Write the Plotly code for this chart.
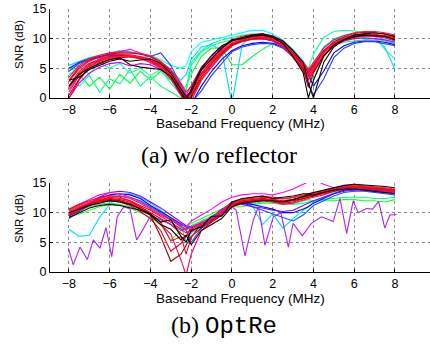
import plotly.graph_objects as go

# ---------------- data ----------------
FREQ = [-8.0, -7.5, -7.0, -6.5, -6.0, -5.5, -5.0, -4.5, -4.0, -3.5, -3.0, -2.5,
        -2.25,
        -2.0, -1.5, -1.0, -0.5, 0.0, 0.5, 1.0, 1.5, 2.0, 2.5, 3.0, 3.5,
        3.75,
        4.0, 4.5, 5.0, 5.5, 6.0, 6.5, 7.0, 7.5, 8.0]
X_TICKS = [-8, -6, -4, -2, 0, 2, 4, 6, 8]
Y_TICKS = [0, 5, 10, 15]

# (a) w/o reflector
TOP_GREEN_1 = [5.2, 4.0, 2.0, 3.5, 1.5, 4.0, 2.5, 4.5, 3.0, 4.5, 3.0, 1.5,
               2.0,
               4.0, 7.0, 8.4, 8.4, 5.6, 5.6, 7.0, 8.2, 9.2, 9.2, 8.0, 6.0,
               4.2,
               5.8, 8.0, 9.0, 9.4, 9.6, 9.8, 10.0, 9.6, 9.2]
TOP_GREEN_2 = [5.0, 5.4, 4.0, 6.0, 5.0, 5.8, 4.2, 5.0, 3.8, 4.8, 2.5, 0.5,
               1.5,
               6.0, 8.0, 9.2, 9.8, 10.2, 10.6, 10.8, 10.6, 10.0, 9.0, 7.6, 6.2,
               5.0,
               7.4, 10.2, 11.2, 11.4, 11.3, 11.0, 10.6, 8.2, 6.6]
TOP_GREEN_3 = [3.0, 2.0, 3.8, 1.0, 3.2, 2.4, 4.8, 2.0, 3.6, 2.0, 1.0, 0.0,
               1.0,
               5.5, 7.8, 8.8, 9.4, 9.8, 10.0, 10.2, 10.0, 9.6, 8.8, 7.8, 6.0,
               4.8,
               3.0, 7.5, 9.4, 10.2, 10.6, 10.6, 10.4, 10.2, 9.6]
TOP_CYAN_1 = [4.0, 5.0, 5.8, 6.5, 7.0, 7.4, 7.5, 7.5, 7.2, 6.5, 5.5, 5.0,
              5.5,
              7.8, 9.4, 9.8, 10.2, 10.6, 11.0, 11.4, 11.4, 10.8, 9.8, 8.2, 6.2,
              4.5,
              5.6, 8.4, 10.0, 10.6, 10.8, 10.6, 10.4, 10.0, 9.4]
TOP_CYAN_2 = [5.5, 6.2, 6.8, 7.2, 7.6, 8.0, 7.8, 7.4, 7.0, 6.0, 4.5, 3.0,
              4.0,
              6.5, 8.6, 9.0, 8.0, -1.0, 9.0, 10.6, 10.8, 10.4, 9.4, 7.6, 5.6,
              4.2,
              5.4, 8.6, 9.8, 10.2, 10.4, 10.2, 10.0, 8.6, 4.8]
TOP_BLUE_1 = [5.0, 6.0, 6.6, 7.0, 7.2, 7.2, 7.0, 6.8, 6.4, 5.4, 3.8, 1.0,
              -1.0,
              -1.0, 2.0, 4.5, 6.5, 8.0, 8.8, 9.2, 9.4, 9.2, 8.6, 7.4, 5.6,
              4.0,
              2.0, 4.5, 7.6, 8.8, 9.4, 9.6, 9.6, 9.4, 9.0]
TOP_BLUE_2 = [4.5, 5.8, 6.4, 6.8, 7.0, 7.3, 7.1, 6.8, 7.0, 7.6, 5.5, 2.0,
              0.5,
              -0.8, 1.2, 3.8, 5.8, 7.8, 8.6, 9.0, 9.2, 9.1, 8.4, 7.0, 5.0,
              2.4,
              0.5, 3.2, 6.8, 8.4, 9.2, 9.5, 9.5, 9.2, 8.8]
TOP_PURPLE = [0.0, 2.5, 4.2, 5.2, 5.8, 6.0, 5.4, 5.8, 5.6, 4.8, 3.8, 1.2,
              -0.5,
              0.5, 4.0, 6.2, 7.8, 9.0, 9.6, 9.9, 10.0, 9.6, 8.6, 7.2, 5.4,
              3.6,
              4.8, 7.2, 8.8, 9.6, 10.0, 10.1, 10.0, 9.8, 9.4]
TOP_MAGENTA = [1.5, 4.0, 5.6, 6.6, 7.4, 7.8, 8.2, 7.6, 7.0, 5.8, 4.6, 2.0,
               0.5,
               2.0, 5.0, 7.0, 8.5, 9.6, 10.0, 10.2, 10.2, 9.8, 9.0, 7.6, 5.8,
               4.6,
               5.6, 7.8, 9.2, 10.0, 10.4, 10.5, 10.4, 10.2, 9.6]
TOP_RED_1 = [2.0, 4.5, 5.8, 6.5, 7.0, 7.2, 7.3, 7.0, 6.5, 5.6, 4.0, 1.0,
             -0.5,
             0.5, 4.0, 6.0, 7.8, 9.2, 9.8, 10.2, 10.3, 10.0, 9.0, 7.2, 5.2,
             3.8,
             5.0, 7.6, 9.2, 10.0, 10.6, 10.8, 10.7, 10.5, 10.0]
TOP_RED_2 = [1.0, 3.8, 5.4, 6.2, 6.7, 6.9, 6.9, 6.7, 6.2, 5.2, 3.5, 0.5,
             -1.0,
             0.0, 3.2, 5.5, 7.4, 8.9, 9.6, 10.0, 10.0, 9.7, 8.7, 6.8, 4.7,
             3.2,
             4.4, 7.1, 8.8, 9.7, 10.2, 10.4, 10.4, 10.2, 9.8]
TOP_RED_3 = [3.0, 5.2, 6.4, 7.0, 7.4, 7.6, 7.6, 7.4, 7.0, 6.0, 4.6, 1.8,
             0.3,
             1.2, 4.6, 6.6, 8.3, 9.6, 10.2, 10.5, 10.6, 10.3, 9.4, 7.6, 5.6,
             4.3,
             5.4, 8.0, 9.5, 10.3, 10.9, 11.1, 11.0, 10.8, 10.3]
TOP_RED_4 = [0.5, 3.2, 5.0, 6.0, 6.5, 6.8, 7.0, 6.9, 6.4, 5.4, 3.8, 0.8,
             -0.8,
             0.2, 3.6, 5.8, 7.6, 9.0, 9.7, 10.0, 10.1, 9.9, 9.0, 7.4, 4.9,
             1.8,
             4.2, 7.2, 9.0, 9.9, 10.4, 10.6, 10.6, 10.5, 10.2]
TOP_RED_5 = [2.8, 4.9, 6.2, 6.9, 7.3, 7.4, 7.2, 6.9, 6.3, 5.3, 3.6, 1.2,
             -0.2,
             0.8, 4.2, 6.3, 8.0, 9.3, 9.9, 10.3, 10.4, 10.1, 9.2, 7.5, 5.6,
             4.4,
             5.7, 7.9, 9.3, 10.1, 10.6, 10.7, 10.7, 10.4, 9.9]
TOP_RED_6 = [1.8, 4.2, 5.6, 6.4, 6.8, 7.0, 7.1, 6.9, 6.5, 5.6, 4.0, 1.5,
             0.0,
             1.0, 3.8, 6.0, 7.9, 9.2, 9.8, 10.1, 10.2, 9.9, 9.0, 7.4, 5.3,
             4.0,
             5.2, 7.6, 9.1, 9.9, 10.5, 10.6, 10.6, 10.3, 9.9]
TOP_RED_7 = [0.0, 3.0, 5.2, 6.3, 6.9, 7.1, 7.0, 6.6, 6.0, 5.0, 3.2, 0.2,
             -1.0,
             -0.5, 3.0, 5.2, 7.2, 8.8, 9.5, 9.9, 10.0, 9.8, 8.9, 7.0, 4.6,
             3.0,
             4.6, 7.0, 8.8, 9.8, 10.3, 10.6, 10.6, 10.4, 10.1]
TOP_RED_8 = [3.5, 5.5, 6.6, 7.2, 7.6, 7.8, 7.7, 7.5, 7.1, 6.2, 4.8, 2.5,
             1.0,
             2.0, 5.2, 7.0, 8.6, 9.8, 10.4, 10.7, 10.8, 10.5, 9.6, 8.0, 6.0,
             4.8,
             6.0, 8.4, 9.8, 10.5, 11.0, 11.2, 11.2, 11.0, 10.6]
TOP_BLACK_1 = [3.0, 3.5, 4.8, 5.5, 6.2, 6.6, 6.2, 6.4, 6.6, 5.8, 4.2, 1.5,
               0.2,
               1.0, 4.8, 6.6, 8.4, 9.8, 10.0, 10.4, 10.6, 10.2, 9.2, 7.0, 4.2,
               0.0,
               3.0, 7.0, 9.0, 9.8, 10.3, 10.6, 10.5, 10.4, 9.8]
TOP_BLACK_2 = [2.0, 4.0, 5.0, 5.8, 6.5, 6.8, 5.6, 5.2, 5.0, 4.8, 3.6, 1.0,
               -0.4,
               1.5, 5.0, 7.2, 8.8, 9.6, 10.2, 10.6, 10.8, 10.4, 9.6, 8.0, 6.0,
               2.5,
               0.0, 6.0, 8.6, 9.8, 10.6, 10.8, 11.0, 10.8, 10.4]

# (b) OptRe
BOT_GREEN_1 = [10.0, 10.6, 11.0, 11.4, 11.6, 11.4, 11.0, 10.4, 9.6, 8.8, 8.0, 7.4,
               7.0,
               7.8, 8.6, 9.4, 10.4, 11.2, 11.4, 11.6, 11.8, 11.8, 11.6, 11.4, 11.6,
               11.8,
               12.0, 12.2, 12.4, 12.6, 12.6, 12.6, 12.4, 12.4, 12.6]
BOT_GREEN_2 = [9.2, 9.8, 10.4, 11.0, 11.4, 11.2, 10.8, 10.0, 9.2, 8.0, 5.4, 7.0,
               7.6,
               8.2, 9.0, 9.8, 10.6, 11.0, 11.0, 11.4, 11.6, 11.6, 11.4, 11.6, 12.0,
               12.2,
               12.0, 12.0, 12.0, 12.2, 12.2, 12.0, 12.0, 11.8, 12.2]
BOT_CYAN = [7.2, 6.0, 6.2, 9.2, 11.4, 13.0, 13.2, 12.6, 11.6, 10.4, 9.0, 8.0,
            5.0,
            6.6, 7.6, 8.6, 10.2, 11.6, 11.8, 11.2, 8.0, 9.8, 7.4, 9.0, 10.4,
            11.0,
            11.8, 12.6, 13.4, 13.8, 14.0, 14.0, 13.8, 13.6, 13.4]
BOT_BLUE_1 = [9.6, 10.6, 11.6, 12.4, 13.0, 13.2, 13.0, 12.4, 11.2, 10.2, 9.2, 8.2,
              7.6,
              7.0, 7.8, 8.6, 10.0, 11.4, 11.6, 11.4, 11.0, 10.6, 10.0, 10.0, 10.6,
              11.0,
              11.6, 12.4, 13.2, 13.8, 14.0, 14.0, 13.8, 13.6, 13.4]
BOT_BLUE_2 = [9.0, 10.2, 11.2, 12.0, 12.6, 12.8, 12.6, 12.0, 11.0, 10.0, 8.8, 7.8,
              7.0,
              5.0, 7.4, 8.8, 10.4, 11.8, 11.8, 11.0, 10.4, 9.8, 9.2, 8.6, 9.6,
              10.4,
              11.2, 12.0, 12.8, 13.4, 13.6, 13.6, 13.4, 13.2, 13.0]
BOT_PURPLE = [9.4, 10.4, 11.6, 12.6, 13.4, 13.6, 13.4, 12.8, 11.8, 10.8, 9.6, 8.4,
              7.8,
              7.6, 8.2, 9.2, 10.6, 11.6, 11.4, 11.0, 10.8, 10.4, 10.2, 10.4, 11.2,
              11.6,
              12.0, 12.6, 13.2, 13.6, 13.8, 13.8, 13.6, 13.4, 13.4]
BOT_MAGENTA = [10.4, 11.4, 12.2, 13.0, 13.4, 13.2, 12.6, 11.8, 10.8, 9.8, 8.8, 8.0,
               7.6,
               8.6, 9.6, 10.6, 11.8, 12.6, 13.0, 13.2, 13.2, 13.0, 13.4, 14.0, 14.8,
               15.2,
               15.6, 14.8, 14.2, 14.4, 14.6, 14.4, 14.2, 14.0, 13.8]
BOT_RED_1 = [9.8, 10.8, 11.5, 12.0, 12.4, 12.2, 11.8, 11.0, 10.0, 9.0, 8.0, 6.5,
             6.0,
             6.8, 7.8, 8.6, 9.8, 11.2, 12.0, 12.2, 12.4, 12.2, 12.0, 12.2, 12.6,
             12.8,
             13.0, 13.4, 13.8, 14.2, 14.3, 14.2, 14.0, 13.8, 13.6]
BOT_RED_2 = [10.2, 11.0, 11.6, 12.2, 12.6, 12.4, 12.0, 11.2, 10.4, 9.4, 8.4, 7.2,
             6.6,
             7.2, 8.0, 9.0, 10.2, 11.6, 12.2, 12.4, 12.6, 12.5, 12.3, 12.5, 12.9,
             13.1,
             13.3, 13.7, 14.1, 14.4, 14.5, 14.4, 14.2, 14.0, 13.8]
BOT_RED_3 = [9.4, 10.4, 11.2, 11.8, 12.0, 11.8, 11.2, 10.2, 9.0, 7.0, 3.5, 4.8,
             6.0,
             7.4, 8.2, 8.8, 10.0, 11.4, 11.8, 12.0, 12.2, 12.0, 11.6, 11.8, 12.4,
             12.6,
             12.8, 13.2, 13.6, 14.0, 14.2, 14.2, 14.0, 13.8, 13.6]
BOT_RED_4 = [10.0, 10.8, 11.4, 12.0, 12.2, 12.0, 11.4, 10.6, 9.6, 6.0, 1.8, 3.0,
             4.5,
             6.0, 7.4, 8.4, 9.6, 11.0, 11.8, 12.0, 12.2, 12.0, 11.8, 12.0, 12.4,
             12.6,
             12.8, 13.4, 14.0, 14.4, 14.6, 14.5, 14.3, 14.0, 13.8]
BOT_RED_5 = [9.6, 10.6, 11.2, 11.8, 12.2, 12.0, 11.6, 10.8, 9.6, 8.0, 6.4, 2.0,
             -0.5,
             3.0, 7.0, 8.4, 9.6, 11.0, 11.6, 11.8, 12.0, 11.8, 11.4, 11.6, 12.2,
             12.4,
             12.6, 13.0, 13.6, 14.0, 14.2, 14.1, 13.9, 13.6, 13.4]
BOT_RED_6 = [10.4, 11.2, 11.8, 12.4, 12.8, 12.8, 12.4, 11.6, 10.6, 9.6, 8.8, 7.6,
             7.2,
             7.6, 8.4, 9.2, 10.4, 11.8, 12.2, 12.6, 12.8, 12.6, 12.4, 12.6, 13.0,
             13.2,
             13.4, 13.8, 14.2, 14.5, 14.6, 14.5, 14.4, 14.2, 14.0]
BOT_RED_7 = [10.6, 11.4, 12.0, 12.6, 12.9, 12.6, 12.0, 11.0, 9.8, 8.4, 5.2, 6.0,
             3.0,
             5.8, 8.2, 9.0, 10.0, 11.4, 12.0, 12.2, 12.4, 12.2, 12.0, 12.2, 12.6,
             12.9,
             13.2, 13.6, 14.0, 14.3, 14.4, 14.3, 14.1, 13.9, 13.7]
BOT_BLACK_1 = [10.0, 10.6, 11.2, 11.6, 12.0, 11.8, 11.4, 10.6, 9.8, 8.4, 8.8, 6.0,
               5.0,
               7.0, 7.6, 9.4, 9.4, 11.8, 12.4, 12.6, 12.8, 12.4, 12.6, 12.8, 13.2,
               13.2,
               13.4, 13.8, 14.2, 14.6, 14.8, 14.7, 14.6, 14.4, 14.2]
BOT_BLACK_2 = [9.2, 10.0, 10.8, 11.2, 11.4, 11.2, 10.8, 10.4, 9.6, 8.0, 7.2, 5.4,
               6.2,
               4.6, 7.0, 8.0, 9.0, 11.0, 11.6, 11.8, 12.0, 12.0, 11.8, 12.2, 12.8,
               13.0,
               13.0, 13.4, 13.8, 14.0, 14.0, 13.8, 13.6, 13.4, 13.2]
# one noisy (violet) measurement in (b), read on its own frequency points
BOT_OUTLIER_FREQ = [-8.03, -7.79, -7.46, -7.1, -6.8, -6.48, -6.18, -5.9, -5.63,
                    -5.3, -5.0, -4.68, -4.43, -4.0, -3.5, -3.0, -2.5, -2.0, -1.5,
                    -1.0, -0.5, 0.0, 0.2, 0.64, 1.05, 1.3, 1.62, 2.03, 2.4, 2.77,
                    3.0, 3.45, 3.9, 4.4, 4.97, 5.3, 5.63, 5.95, 6.2, 6.6, 6.9,
                    7.2, 7.5, 7.75, 8.08]
BOT_OUTLIER_SNR = [4.0, 1.2, 4.2, 2.1, 5.4, 4.0, 7.5, 2.6, 9.3,
                   11.0, 10.6, 5.4, 6.8, 9.4, 8.8, 8.0, 7.0, 7.6, 8.2,
                   9.0, 10.0, 11.0, 10.5, 2.7, 8.8, 11.0, 4.5, 9.3, 10.0, 4.2,
                   8.2, 6.1, 8.2, 9.3, 8.5, 12.4, 6.5, 12.0, 10.0, 10.7, 10.6,
                   11.9, 7.4, 9.6, 9.7]

# ---------------- styles ----------------
TOP_LINES = [
    (TOP_GREEN_1, '#00ff40'), (TOP_GREEN_3, '#00ff80'), (TOP_GREEN_2, '#10ffa0'),
    (TOP_CYAN_1, '#00ffff'), (TOP_CYAN_2, '#00d8ff'),
    (TOP_BLUE_1, '#0000ff'), (TOP_BLUE_2, '#2040ff'),
    (TOP_PURPLE, '#c000ff'), (TOP_MAGENTA, '#ff00ff'),
    (TOP_RED_7, '#e8002a'), (TOP_RED_2, '#ff0040'), (TOP_RED_4, '#b00000'),
    (TOP_RED_1, '#ff0000'), (TOP_RED_5, '#ff0060'), (TOP_RED_6, '#ff2020'),
    (TOP_RED_3, '#d80020'), (TOP_RED_8, '#ff1030'),
    (TOP_BLACK_1, '#000000'), (TOP_BLACK_2, '#1a0000'),
]
BOT_LINES = [
    (BOT_GREEN_2, '#20ff20'), (BOT_GREEN_1, '#00ff80'), (BOT_CYAN, '#00e0ff'),
    (BOT_BLUE_2, '#0060ff'), (BOT_BLUE_1, '#0000ff'), (BOT_PURPLE, '#8000ff'),
    (BOT_MAGENTA, '#ff00ff'),
    (BOT_RED_5, '#ff0060'), (BOT_RED_3, '#d80020'), (BOT_RED_4, '#a00000'),
    (BOT_RED_7, '#e8002a'), (BOT_RED_1, '#ff0000'), (BOT_RED_2, '#ff0040'),
    (BOT_RED_6, '#ff2020'),
]

LW = 1.1
fig = go.Figure()
for ys, col in TOP_LINES:
    fig.add_trace(go.Scatter(x=FREQ, y=ys, mode='lines', xaxis='x', yaxis='y',
                             line=dict(color=col, width=LW), showlegend=False,
                             hoverinfo='skip'))
for ys, col in BOT_LINES:
    fig.add_trace(go.Scatter(x=FREQ, y=ys, mode='lines', xaxis='x2', yaxis='y2',
                             line=dict(color=col, width=LW), showlegend=False,
                             hoverinfo='skip'))
fig.add_trace(go.Scatter(x=BOT_OUTLIER_FREQ, y=BOT_OUTLIER_SNR, mode='lines',
                         xaxis='x2', yaxis='y2', line=dict(color='#b020f0', width=LW),
                         showlegend=False, hoverinfo='skip'))
for ys, col in [(BOT_BLACK_1, '#000000'), (BOT_BLACK_2, '#1a0000')]:
    fig.add_trace(go.Scatter(x=FREQ, y=ys, mode='lines', xaxis='x2', yaxis='y2',
                             line=dict(color=col, width=LW), showlegend=False,
                             hoverinfo='skip'))

W, H = 430, 345

def fx(px):
    return px / W

def fy(py):
    return (H - py) / H

tickfont = dict(family='Liberation Sans, Arial, sans-serif', size=12.5, color='black')
common = dict(showgrid=True, gridcolor='#8a8a8a', griddash='dot', gridwidth=1,
              showline=True, linecolor='black', linewidth=1, ticks='inside',
              ticklen=3, tickcolor='black', zeroline=False, tickfont=tickfont,
              automargin=False, ticklabeloverflow='allow')
xdom = [fx(50), 1.0]
xrng = [-8.93, 9.72]
fig.update_layout(
    width=W, height=H, margin=dict(l=0, r=0, t=0, b=0, pad=0, autoexpand=False),
    paper_bgcolor='white', plot_bgcolor='white',
    xaxis=dict(domain=xdom, range=xrng, tickvals=X_TICKS, anchor='y', **common),
    yaxis=dict(domain=[fy(98), fy(9)], range=[0, 15], tickvals=Y_TICKS,
               anchor='x', **common),
    xaxis2=dict(domain=xdom, range=xrng, tickvals=X_TICKS, anchor='y2', **common),
    yaxis2=dict(domain=[fy(272), fy(183)], range=[0, 15], tickvals=Y_TICKS,
                anchor='x2', **common),
)

def ann(text, px, py, size, family, angle=0):
    fig.add_annotation(text=text, x=fx(px), y=fy(py), xref='paper', yref='paper',
                       xanchor='center', yanchor='middle', showarrow=False,
                       textangle=angle, font=dict(size=size, family=family, color='black'))

sans = 'Liberation Sans, Arial, sans-serif'
serif = 'Liberation Serif, Times New Roman, serif'
ann('Baseband Frequency (MHz)', 240, 123, 13.5, sans)
ann('Baseband Frequency (MHz)', 240, 298, 13.5, sans)
ann('SNR (dB)', 19, 45, 11.5, sans, -90)
ann('SNR (dB)', 19, 219, 11.5, sans, -90)
ann('(a) w/o reflector', 219, 155, 24, serif)
ann("(b) <span style='font-family:Liberation Mono, monospace'>OptRe</span>", 224, 326, 24, serif)

# remove the browser's default 8px page margin so the figure fills the window
fig.write_html('out.html',
               config={'displayModeBar': False, 'staticPlot': True},
               post_script="document.body.style.margin='0px';"
                           "document.body.style.overflow='hidden';")
